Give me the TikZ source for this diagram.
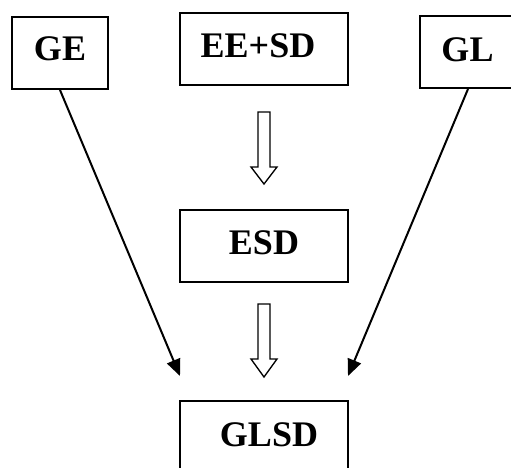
\documentclass[tikz,border=0pt]{standalone}
\usepackage{fontspec}
\setmainfont{Liberation Serif}
\usetikzlibrary{arrows.meta}
\begin{document}
\begin{tikzpicture}[x=0.75pt,y=-0.75pt,
  box/.style={draw,line width=1.5pt,minimum width=72pt,minimum height=54pt,inner sep=0pt,anchor=center},
  widebox/.style={box,minimum width=126pt},
  lbl/.style={font=\bfseries\fontsize{27}{30}\selectfont,inner sep=0pt,anchor=center},
  link/.style={line width=1.5pt,-{Triangle[length=12.5pt,width=10.5pt]}},
  hollow/.style={draw,line width=1pt,fill=white,line join=miter}]
\clip (0,0) rectangle (511,468);
\fill[white] (0,0) rectangle (511,468);
% boxes
\node[box] (ge) at (60,53) {};
\node[widebox] (eesd) at (264,49) {};
\node[box] (gl) at (468,52) {};
\node[widebox] (esd) at (264,245.5) {};
\node[widebox] (glsd) at (264,437) {};
% labels
\node[lbl] (tge) at (60,48.5) {GE};
\node[lbl] (teesd) at (258,45.5) {EE+SD};
\node[lbl] (tgl) at (467.5,50) {GL};
\node[lbl] (tesd) at (264,242.5) {ESD};
\node[lbl] (tglsd) at (269,435) {GLSD};
% arrow tips
\coordinate (tipl) at (180,376);
\coordinate (tipr) at (348,376);
\draw[link] (ge.south) -- (tipl);
\draw[link] (gl.south -| 468,0) -- (tipr);
% hollow arrows
\draw[hollow] (258,112) -- (270,112) -- (270,167) -- (277,167) -- (264,184) -- (251,167) -- (258,167) -- cycle;
\draw[hollow] (258,304) -- (270,304) -- (270,359) -- (277,359) -- (264,377) -- (251,359) -- (258,359) -- cycle;
\end{tikzpicture}
\end{document}
